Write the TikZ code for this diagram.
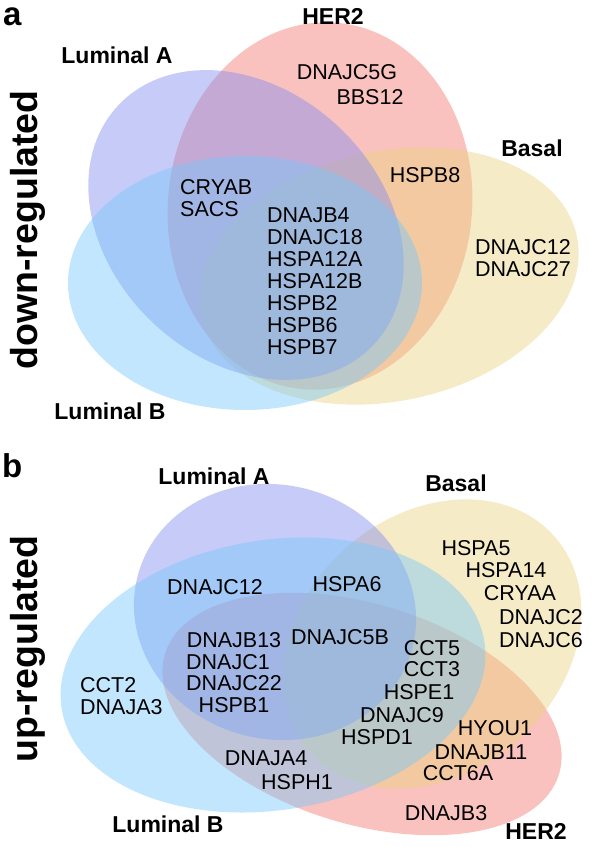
\documentclass[tikz,border=0pt]{standalone}
\usepackage{fontspec}
\setmainfont{Liberation Sans}
\definecolor{lumacol}{RGB}{130,140,240}
\definecolor{hercol}{RGB}{245,120,110}
\definecolor{lumbcol}{RGB}{120,200,250}
\definecolor{basalcol}{RGB}{235,210,130}
\begin{document}
\begin{tikzpicture}[x=1pt, y=-1pt,
    blob/.style={fill=#1, fill opacity=0.45, draw=none},
    gene/.style={font=\fontsize{21.5}{22}\selectfont, inner sep=0pt},
    genelist/.style={gene, align=left, anchor=north west},
    setname/.style={font=\fontsize{23}{23}\selectfont\bfseries, inner sep=0pt},
    panel/.style={font=\fontsize{33}{33}\selectfont\bfseries, inner sep=0pt, anchor=base west},
    side/.style={font=\fontsize{37.5}{38}\selectfont\bfseries, inner sep=0pt, rotate=90, anchor=base}]
    \useasboundingbox (0,0) rectangle (595,847);

    % panel a: down-regulated
    \fill[blob=hercol] (320,206) circle[x radius=152pt, y radius=184pt, rotate=-6];
    \fill[blob=basalcol] (389,276) circle[x radius=192pt, y radius=125pt, rotate=12];
    \fill[blob=lumacol] (246,225) circle[x radius=175pt, y radius=135pt, rotate=-43];
    \fill[blob=lumbcol] (245,283) circle[x radius=177pt, y radius=127pt];

    \node[panel] (pa) at (3,25) {a};
    \node[side] (down) at (37,230) {down-regulated};
    \node[setname] (lumaA) at (117,55) {Luminal A};
    \node[setname] (herA) at (333,16) {HER2};
    \node[setname] (basalA) at (532,148) {Basal};
    \node[setname] (lumbA) at (110,411) {Luminal B};

    \node[gene] (dnajcfiveg) at (347,72) {DNAJC5G};
    \node[gene] (bbs) at (370,97) {BBS12};
    \node[gene] (hspbeight) at (425,175) {HSPB8};
    \node[genelist] (cryab) at (180,179.3) {CRYAB\\SACS};
    \node[genelist] (coreA) at (267,207.3) {DNAJB4\\DNAJC18\\HSPA12A\\HSPA12B\\HSPB2\\HSPB6\\HSPB7};
    \node[genelist] (basalonlyA) at (475,239.3) {DNAJC12\\DNAJC27};

    % panel b: up-regulated
    \fill[blob=hercol] (362,714) circle[x radius=206pt, y radius=110pt, rotate=-17];
    \fill[blob=basalcol] (432,644) circle[x radius=163pt, y radius=129pt, rotate=41];
    \fill[blob=lumacol] (275,612) circle[x radius=142pt, y radius=127pt, rotate=-15];
    \fill[blob=lumbcol] (273,675) circle[x radius=214pt, y radius=135pt, rotate=9];

    \node[panel] (pb) at (2,477) {b};
    \node[side] (up) at (37,649) {up-regulated};
    \node[setname] (lumaB) at (214,476) {Luminal A};
    \node[setname] (basalB) at (456,483) {Basal};
    \node[setname] (lumbB) at (168,824) {Luminal B};
    \node[setname] (herB) at (536,831) {HER2};

    \node[gene] (dnajctwelve) at (215,587) {DNAJC12};
    \node[gene] (hspasix) at (347,584) {HSPA6};
    \node[gene] (hspafive) at (476,548) {HSPA5};
    \node[gene] (hspafourteen) at (506,570) {HSPA14};
    \node[gene] (cryaa) at (520,593) {CRYAA};
    \node[gene] (dnajctwo) at (541,617) {DNAJC2};
    \node[gene] (dnajcsix) at (541,640) {DNAJC6};
    \node[genelist] (cct) at (80,677.3) {CCT2\\DNAJA3};
    \node[gene] (dnajbthirteen) at (234,640) {DNAJB13};
    \node[gene] (dnajcone) at (228,662) {DNAJC1};
    \node[gene] (dnajctwentytwo) at (234,683) {DNAJC22};
    \node[gene] (hspbone) at (234,705) {HSPB1};
    \node[gene] (dnajcfiveb) at (340,637) {DNAJC5B};
    \node[gene] (cctfive) at (432,648) {CCT5};
    \node[gene] (cctthree) at (432,669) {CCT3};
    \node[gene] (hspeone) at (419,692) {HSPE1};
    \node[gene] (dnajcnine) at (402,715) {DNAJC9};
    \node[gene] (hspdone) at (377,737) {HSPD1};
    \node[gene] (hyou) at (495,728) {HYOU1};
    \node[gene] (dnajbeleven) at (481,752) {DNAJB11};
    \node[gene] (cctsixa) at (458,773) {CCT6A};
    \node[gene] (dnajafour) at (266,758) {DNAJA4};
    \node[gene] (hsphone) at (297,782) {HSPH1};
    \node[gene] (dnajbthree) at (446,813) {DNAJB3};
\end{tikzpicture}
\end{document}
